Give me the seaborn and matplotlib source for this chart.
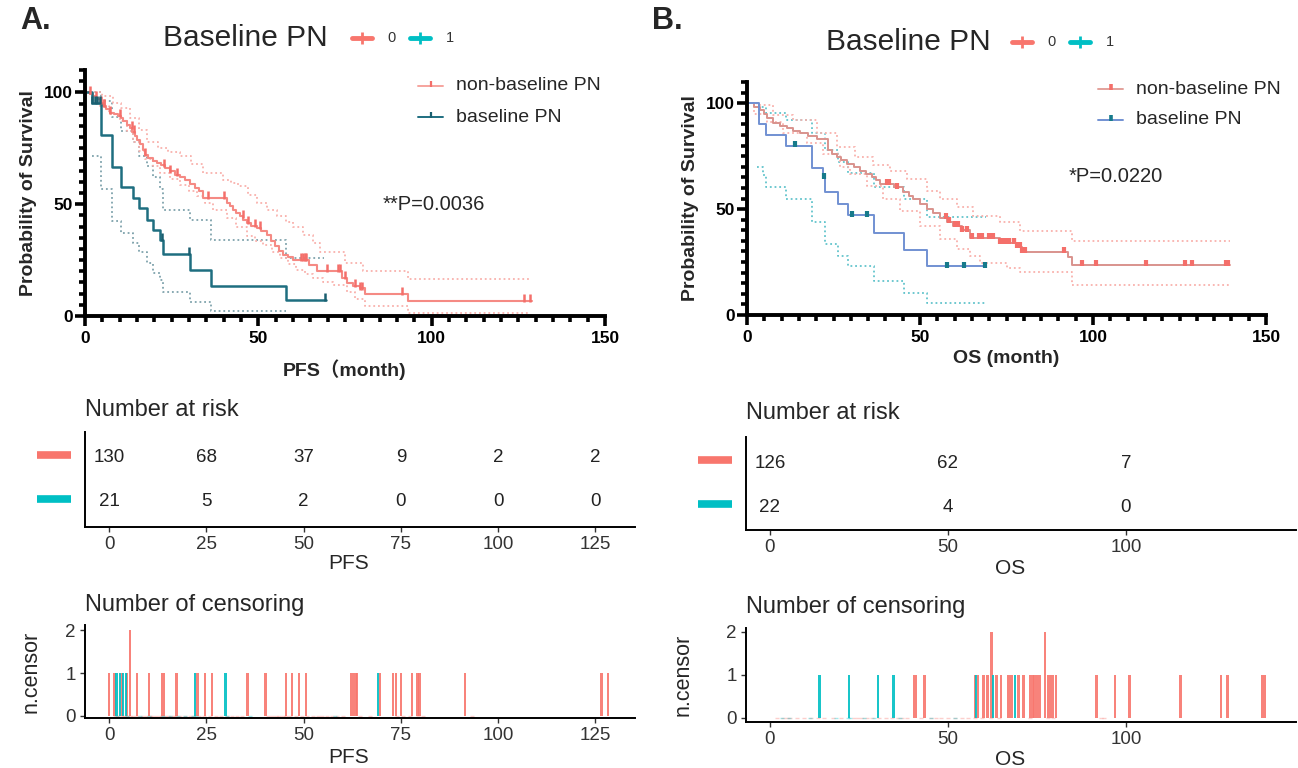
import matplotlib
matplotlib.use('Agg')
import numpy as np
import pandas as pd
import seaborn as sns
import matplotlib.pyplot as plt
from matplotlib.lines import Line2D
from matplotlib.ticker import MultipleLocator
import matplotlib.transforms as mtrans

sns.set_theme(style='white')
plt.rcParams['font.family'] = ['Liberation Sans', 'Noto Sans CJK SC', 'DejaVu Sans']

# ---------------- data ----------------
# PFS, non-baseline PN (group 0)
pfs0_t = [0, 1.5, 2.4, 3.2, 3.8, 4.6, 5.3, 6.2, 7.2, 8.4, 9.6, 10.4, 11.0, 12.0, 13.0, 13.7,
          14.4, 15.1, 15.9, 16.6, 17.3, 18.3, 19.5, 20.7, 21.9, 23.1, 24.5, 26.0, 27.4, 28.8,
          30.2, 31.7, 32.9, 34.1, 40.9, 41.8, 42.8, 43.7, 44.7, 45.6, 46.6, 48.0, 49.5, 50.9,
          52.4, 53.6, 54.8, 56.0, 57.2, 58.6, 60.1, 64.5, 67.0, 74.1, 75.5, 77.4, 79.3, 80.8, 93.3]
pfs0_s = [100, 99.2, 98.4, 97.6, 96.9, 95.4, 93.9, 92.4, 90.9, 90.2, 89.5, 88.4, 87.3, 85.6,
          84.0, 82.2, 80.5, 78.6, 76.7, 74.4, 72.2, 70.6, 69.5, 68.5, 67.3, 66.2, 64.7, 63.2,
          62.1, 61.0, 59.1, 57.3, 55.8, 52.8, 50.5, 49.0, 47.5, 46.0, 44.5, 43.0, 41.6, 40.4,
          39.3, 37.8, 36.3, 33.7, 31.1, 29.2, 27.4, 26.2, 25.1, 23.0, 20.2, 17.2, 14.9, 13.4,
          12.3, 9.9, 6.9]
pfs0_end = 128.8
pfs0_up_t = [0, 2.0, 5.0, 8.2, 10.5, 13.0, 15.5, 17.8, 21.1, 24.0, 27.4, 30.5, 34.1, 39.9, 42.0,
             44.2, 47.0, 49.5, 52.5, 55.3, 58.0, 60.0, 63.0, 65.9, 67.8, 75.0, 80.3, 93.3]
pfs0_up_s = [100, 100, 98.5, 95.4, 93.0, 88.5, 83.0, 78.0, 75.0, 73.3, 71.6, 68.0, 64.0, 61.0,
             59.5, 58.0, 54.0, 50.5, 47.5, 44.5, 42.0, 40.0, 36.0, 32.6, 28.8, 23.6, 19.9, 16.6]
pfs0_lo_t = [0, 2.0, 4.3, 7.0, 10.1, 12.0, 13.9, 15.6, 17.3, 19.5, 21.6, 24.5, 27.4, 30.0, 32.2,
             34.6, 37.0, 40.9, 43.7, 46.6, 49.0, 51.4, 53.8, 56.2, 58.6, 61.0, 63.5, 65.9, 68.7,
             71.6, 75.5, 78.0, 80.8, 93.3]
pfs0_lo_s = [100, 96.0, 93.9, 90.5, 87.3, 82.5, 78.0, 74.0, 70.0, 67.0, 64.0, 61.3, 58.7, 56.0,
             53.6, 50.5, 47.5, 43.8, 40.0, 35.7, 33.7, 31.8, 28.8, 25.9, 23.2, 20.6, 18.7, 16.8,
             15.3, 13.9, 10.9, 7.5, 4.3, 1.2]
pfs_ci_end = 128.4

# PFS, baseline PN (group 1)
pfs1_t = [0, 1.9, 4.5, 7.9, 10.3, 13.9, 15.7, 17.8, 19.5, 21.6, 22.4, 30.3, 36.3, 58.0]
pfs1_s = [100, 95.2, 81.0, 66.7, 57.7, 52.7, 48.2, 43.0, 38.6, 34.0, 27.7, 20.6, 13.5, 7.2]
pfs1_end = 69.5
pfs1_up_t = [0, 4.5, 7.9, 10.3, 13.9, 15.7, 17.8, 19.5, 21.6, 22.4, 30.3, 36.3, 58.0]
pfs1_up_s = [100, 96.0, 89.0, 82.6, 78.0, 71.4, 67.0, 62.0, 57.0, 47.5, 43.0, 34.0, 26.0]
pfs1_up_end = 69.0
pfs1_lo_t = [1.9, 4.5, 7.9, 10.3, 13.9, 15.7, 17.8, 19.5, 21.6, 22.4, 30.3, 36.3]
pfs1_lo_s = [71.7, 57.0, 42.3, 37.0, 32.7, 28.8, 23.8, 19.3, 16.0, 10.9, 6.4, 2.4]
pfs1_lo_end = 58.0

# OS, non-baseline PN (group 0)
os0_t = [0, 2.0, 3.8, 4.8, 5.7, 7.6, 9.5, 11.5, 13.4, 15.3, 17.7, 20.1, 23.5, 24.7, 25.9, 27.3,
         28.8, 30.8, 32.7, 34.3, 36.0, 37.2, 38.4, 42.5, 45.2, 46.7, 48.1, 50.0, 51.9, 53.9,
         55.8, 57.7, 59.6, 62.0, 64.5, 73.1, 78.1, 79.4, 92.9, 93.8]
os0_s = [100, 98.4, 96.8, 94.8, 92.9, 90.5, 89.3, 88.1, 86.9, 85.7, 84.5, 83.3, 77.8, 76.2,
         74.6, 73.0, 71.4, 69.8, 68.2, 66.6, 65.1, 63.5, 61.9, 60.3, 57.9, 56.3, 54.8, 52.4,
         50.0, 48.0, 46.0, 44.0, 42.0, 40.0, 36.5, 34.1, 32.2, 29.8, 27.5, 23.8]
os0_end = 139.6
os0_up_t = [0, 3.0, 7.6, 13.4, 20.1, 25.9, 31.2, 36.5, 41.3, 46.2, 51.9, 55.8, 60.6, 65.4,
            73.1, 78.9, 93.8]
os0_up_s = [100, 99.0, 94.4, 92.0, 85.7, 79.4, 74.6, 70.6, 68.2, 64.3, 58.7, 54.8, 50.8, 46.8,
            43.7, 39.7, 34.9]
os0_lo_t = [0, 2.0, 5.7, 10.5, 17.3, 22.1, 26.9, 29.8, 34.6, 39.4, 44.2, 50.0, 55.8, 60.6,
            64.5, 67.3, 75.1, 78.9, 93.8]
os0_lo_s = [100, 95.0, 91.3, 85.7, 81.0, 76.2, 69.8, 66.7, 61.1, 54.8, 49.2, 42.0, 35.7, 31.0,
            27.8, 24.6, 22.0, 20.3, 14.3]
os_ci_end = 139.5

# OS, baseline PN (group 1)
os1_t = [0, 3.4, 5.5, 11.3, 18.7, 22.0, 22.6, 26.4, 29.3, 36.7, 45.4, 51.9]
os1_s = [100, 90.0, 84.9, 79.8, 69.4, 64.6, 58.0, 52.4, 47.1, 38.6, 30.6, 23.0]
os1_end = 69.0
os1_up_t = [0, 3.4, 5.5, 11.3, 18.7, 22.6, 26.4, 29.3, 36.7, 45.4, 51.9]
os1_up_s = [100, 98.0, 95.2, 92.0, 85.7, 77.8, 72.2, 67.0, 60.3, 54.8, 46.5]
os1_lo_t = [2.8, 4.5, 5.5, 11.3, 18.7, 22.6, 26.4, 29.3, 36.7, 45.4, 51.9]
os1_lo_s = [69.8, 65.9, 60.3, 55.0, 43.7, 33.3, 27.8, 23.0, 15.9, 10.3, 5.9]

# censoring times (repeated time = two censored)
pfs_cens0 = [0, 1.4, 3.3, 4.6, 5.4, 5.4, 7.2, 10.2, 13.6, 14.1, 17.3, 22.7, 24.6, 26.4, 35.6,
             40.2, 45.5, 47.1, 48.9, 50.6, 62.3, 62.9, 63.4, 63.8, 69.7, 73.0, 73.7, 75.1,
             77.8, 79.3, 79.8, 91.5, 126.6, 128.3]
pfs_cens1 = [1.9, 2.8, 3.5, 4.4, 22.1, 29.9, 69.1]
os_cens0 = [40.5, 41.1, 43.4, 57.6, 58.4, 60.0, 61.1, 62.2, 62.2, 63.7, 65.0, 67.1, 67.9, 69.8,
            71.2, 73.1, 73.8, 74.4, 75.0, 75.8, 77.3, 77.3, 78.1, 78.9, 79.6, 80.4, 91.7, 96.9,
            101.0, 115.4, 126.7, 128.5, 138.3, 138.9]
os_cens1 = [13.9, 22.3, 30.4, 34.7, 57.9, 62.7, 68.9]

# number at risk
pfs_risk_t = [0, 25, 50, 75, 100, 125]
pfs_risk0 = [130, 68, 37, 9, 2, 2]
pfs_risk1 = [21, 5, 2, 0, 0, 0]
os_risk_t = [0, 50, 100]
os_risk0 = [126, 62, 7]
os_risk1 = [22, 4, 0]

RED = '#F8766D'
TEAL = '#00BFC4'
W, H = 1298, 768


def rect(l, t, r, b):
    return [l / W, 1 - b / H, (r - l) / W, (b - t) / H]


def fx(x):
    return x / W


def fy(y):
    return 1 - y / H


def step(ax, t, s, end, color, lw, ls='-'):
    df = pd.DataFrame({'time': list(t) + [end], 'surv': list(s) + [s[-1]]})
    sns.lineplot(data=df, x='time', y='surv', ax=ax, color=color, lw=lw, linestyle=ls,
                 drawstyle='steps-post', estimator=None, sort=False, clip_on=False)


def surv_at(t, s, x):
    idx = np.searchsorted(t, x, side='right') - 1
    return np.asarray(s)[idx]


fig = plt.figure(figsize=(12.98, 7.68), dpi=100)
DOT = (0, (1, 1.6))


def km_axes(r, xlabel, xlab_y, ylab_x):
    ax = fig.add_axes(r)
    ax.set_xlim(0, 150)
    ax.set_ylim(0, 110)
    for sp in ['top', 'right']:
        ax.spines[sp].set_visible(False)
    for sp in ['left', 'bottom']:
        ax.spines[sp].set_linewidth(2.8)
        ax.spines[sp].set_color('black')
    ax.xaxis.set_major_locator(MultipleLocator(50))
    ax.xaxis.set_minor_locator(MultipleLocator(5))
    ax.yaxis.set_major_locator(MultipleLocator(50))
    ax.yaxis.set_minor_locator(MultipleLocator(5))
    ax.tick_params(which='major', direction='out', length=7, width=2.6, labelsize=12.5,
                   bottom=True, left=True, color='black', labelcolor='black')
    ax.tick_params(which='minor', direction='out', length=4, width=2.6, bottom=True,
                   left=True, color='black')
    ax.tick_params(axis='x', pad=4)
    ax.tick_params(axis='y', pad=2)
    for lab in ax.get_xticklabels() + ax.get_yticklabels():
        lab.set_fontweight('bold')
    ax.set_xlabel(xlabel, fontsize=14, fontweight='bold', va='center')
    ax.set_ylabel('Probability of Survival', fontsize=14, fontweight='bold', va='center')
    ax.xaxis.set_label_coords(0.5, xlab_y)
    ax.yaxis.set_label_coords(ylab_x, 0.5)
    ax.set_facecolor('white')
    return ax


# ---------------- panel A: PFS ----------------
axA = km_axes(rect(85, 70, 605, 316), 'PFS（month)', -0.22, -0.108)
step(axA, pfs1_up_t, pfs1_up_s, pfs1_up_end, '#7FA3AC', 1.3, DOT)
step(axA, pfs1_lo_t, pfs1_lo_s, pfs1_lo_end, '#7FA3AC', 1.3, DOT)
step(axA, pfs0_up_t, pfs0_up_s, pfs_ci_end, '#F9B1AC', 1.3, DOT)
step(axA, pfs0_lo_t, pfs0_lo_s, pfs_ci_end, '#F9B1AC', 1.3, DOT)
step(axA, pfs0_t, pfs0_s, pfs0_end, '#F58A84', 1.5)
step(axA, pfs1_t, pfs1_s, pfs1_end, '#1E6E80', 1.8)
axA.plot(pfs_cens0, surv_at(pfs0_t, pfs0_s, pfs_cens0) + 1.2, ls='', marker='|', ms=6,
         mew=1.8, color='#F46F6A', clip_on=False)
axA.plot(pfs_cens1, surv_at(pfs1_t, pfs1_s, pfs_cens1) + 1.2, ls='', marker='|', ms=6,
         mew=1.8, color='#1A5F70', clip_on=False)

# ---------------- panel B: OS ----------------
axB = km_axes(rect(747, 82, 1266, 315), 'OS (month)', -0.185, -0.108)
step(axB, os1_up_t, os1_up_s, os1_end, '#62C4CC', 1.3, DOT)
step(axB, os1_lo_t, os1_lo_s, os1_end, '#62C4CC', 1.3, DOT)
step(axB, os0_up_t, os0_up_s, os_ci_end, '#F9B1AC', 1.3, DOT)
step(axB, os0_lo_t, os0_lo_s, os_ci_end, '#F9B1AC', 1.3, DOT)
step(axB, os0_t, os0_s, os0_end, '#D9938D', 1.4)
step(axB, os1_t, os1_s, os1_end, '#7191D2', 1.4)
axB.plot(os_cens0, surv_at(os0_t, os0_s, os_cens0) + 0.8, ls='', marker='|', ms=5,
         mew=3, color='#F46F6A', clip_on=False)
axB.plot(os_cens1, surv_at(os1_t, os1_s, os_cens1) + 0.8, ls='', marker='|', ms=5,
         mew=3, color='#167A8B', clip_on=False)

# panel letters, titles, legends
fig.text(fx(20), fy(21), 'A.', fontsize=22, fontweight='bold', va='center')
fig.text(fx(652), fy(21), 'B.', fontsize=22, fontweight='bold', va='center')


def group_legend(x_title, y, x_red, x_teal):
    fig.text(fx(x_title), fy(y), 'Baseline PN', fontsize=21.5, va='center')
    for x0, col, lab in [(x_red, RED, '0'), (x_teal, TEAL, '1')]:
        fig.add_artist(Line2D([fx(x0), fx(x0 + 20)], [fy(y), fy(y)], color=col, lw=3.5,
                              transform=fig.transFigure))
        fig.add_artist(Line2D([fx(x0 + 10)], [fy(y)], color=col, marker='+', ms=8, mew=2,
                              transform=fig.transFigure))
        fig.text(fx(x0 + 40), fy(y), lab, fontsize=10.5, ha='center', va='center',
                 color='#333333')


group_legend(163, 38, 352, 410)
group_legend(826, 42, 1012, 1070)


def km_legend(x0, y1, y2, c1, m1, c2, m2, ms_w):
    for yy, col, mcol, lab in [(y1, c1, m1, 'non-baseline PN'), (y2, c2, m2, 'baseline PN')]:
        fig.add_artist(Line2D([fx(x0), fx(x0 + 25)], [fy(yy), fy(yy)], color=col, lw=1.4,
                              transform=fig.transFigure))
        fig.add_artist(Line2D([fx(x0 + 12.5)], [fy(yy - 2)], color=mcol, marker='|', ms=5,
                              mew=ms_w, transform=fig.transFigure))
        fig.text(fx(x0 + 38), fy(yy), lab, fontsize=14, va='center')


km_legend(418, 86, 117, '#F6A49E', '#F46F6A', '#1E6E80', '#1A5F70', 1.6)
km_legend(1098, 89, 120, '#E3A19B', '#F46F6A', '#7191D2', '#167A8B', 2.6)

fig.text(fx(383), fy(205), '**P=0.0036', fontsize=14.5, va='center')
fig.text(fx(1069), fy(177), '*P=0.0220', fontsize=14.5, va='center')


# ---------------- number at risk tables ----------------
def risk_axes(r, xlim, ticks, r0, r1, xlabel, ylim, title_y, lab_y):
    ax = fig.add_axes(r)
    ax.set_xlim(*xlim)
    ax.set_ylim(*ylim)
    for sp in ['top', 'right']:
        ax.spines[sp].set_visible(False)
    for sp in ['left', 'bottom']:
        ax.spines[sp].set_linewidth(1.4)
        ax.spines[sp].set_color('black')
    for t, a, b in zip(ticks, r0, r1):
        ax.text(t, 1, str(a), ha='center', va='center', fontsize=13.5, color='#222222')
        ax.text(t, 0, str(b), ha='center', va='center', fontsize=13.5, color='#222222')
    ax.set_yticks([])
    ax.set_xticks(ticks)
    ax.tick_params(axis='x', bottom=True, length=3.5, width=1, pad=3, labelsize=13.5,
                   labelcolor='#333333', color='#333333')
    ax.set_xlabel(xlabel, fontsize=15, va='center')
    ax.xaxis.set_label_coords(0.48, lab_y)
    ax.text(0, title_y, 'Number at risk', transform=ax.transAxes, fontsize=17, va='center')
    tr = mtrans.blended_transform_factory(ax.transAxes, ax.transData)
    for yy, col in [(1.07, RED), (0.06, TEAL)]:
        ax.plot([-0.087, -0.025], [yy, yy], color=col, lw=5.5, solid_capstyle='butt',
                transform=tr, clip_on=False)
    return ax


risk_axes(rect(85, 432, 635, 527), (-6.2, 135.2), pfs_risk_t, pfs_risk0, pfs_risk1, 'PFS',
          (-0.57, 1.59), 1.232, -0.379)
risk_axes(rect(746, 437, 1296, 530), (-6.7, 147.8), os_risk_t, os_risk0, os_risk1, 'OS',
          (-0.52, 1.59), 1.258, -0.41)


# ---------------- number of censoring ----------------
def censor_axes(r, xlim, ylim, ticks, c0, c1, ev0, ev1, xlabel, title_y, lab_x, lab_y, bw):
    ax = fig.add_axes(r)
    ax.set_xlim(*xlim)
    ax.set_ylim(*ylim)
    for sp in ['top', 'right']:
        ax.spines[sp].set_visible(False)
    for sp in ['left', 'bottom']:
        ax.spines[sp].set_linewidth(1.4)
        ax.spines[sp].set_color('black')
    ax.plot(ev0, np.zeros(len(ev0)), ls='', marker='_', ms=3, color=RED, alpha=0.35)
    ax.plot(ev1, np.zeros(len(ev1)), ls='', marker='_', ms=3, color=TEAL, alpha=0.35)
    for c, col in [(c0, RED), (c1, TEAL)]:
        tt, nn = np.unique(c, return_counts=True)
        ax.bar(tt, nn, width=bw, color=col, alpha=0.9, linewidth=0)
    ax.set_xticks(ticks)
    ax.set_yticks([0, 1, 2])
    ax.tick_params(axis='both', bottom=True, left=True, length=3.5, width=1, pad=3,
                   labelsize=13.5, labelcolor='#333333', color='#333333')
    ax.set_xlabel(xlabel, fontsize=15, va='center')
    ax.set_ylabel('n.censor', fontsize=15.5, va='center')
    ax.xaxis.set_label_coords(0.48, lab_y)
    ax.yaxis.set_label_coords(lab_x, 0.5)
    ax.text(0, title_y, 'Number of censoring', transform=ax.transAxes, fontsize=17,
            va='center')
    return ax


censor_axes(rect(85, 625, 635, 718), (-6.2, 135.2), (-0.047, 2.12), [0, 25, 50, 75, 100, 125],
            pfs_cens0, pfs_cens1, pfs0_t[1:], pfs1_t[1:], 'PFS', 1.215, -0.098, -0.42, 0.6)
censor_axes(rect(746, 628, 1296, 722), (-6.7, 147.8), (-0.093, 2.09), [0, 50, 100],
            os_cens0, os_cens1, os0_t[1:], os1_t[1:], 'OS', 1.223, -0.115, -0.40, 0.7)

fig.savefig('out.png', dpi=100, facecolor='white')
